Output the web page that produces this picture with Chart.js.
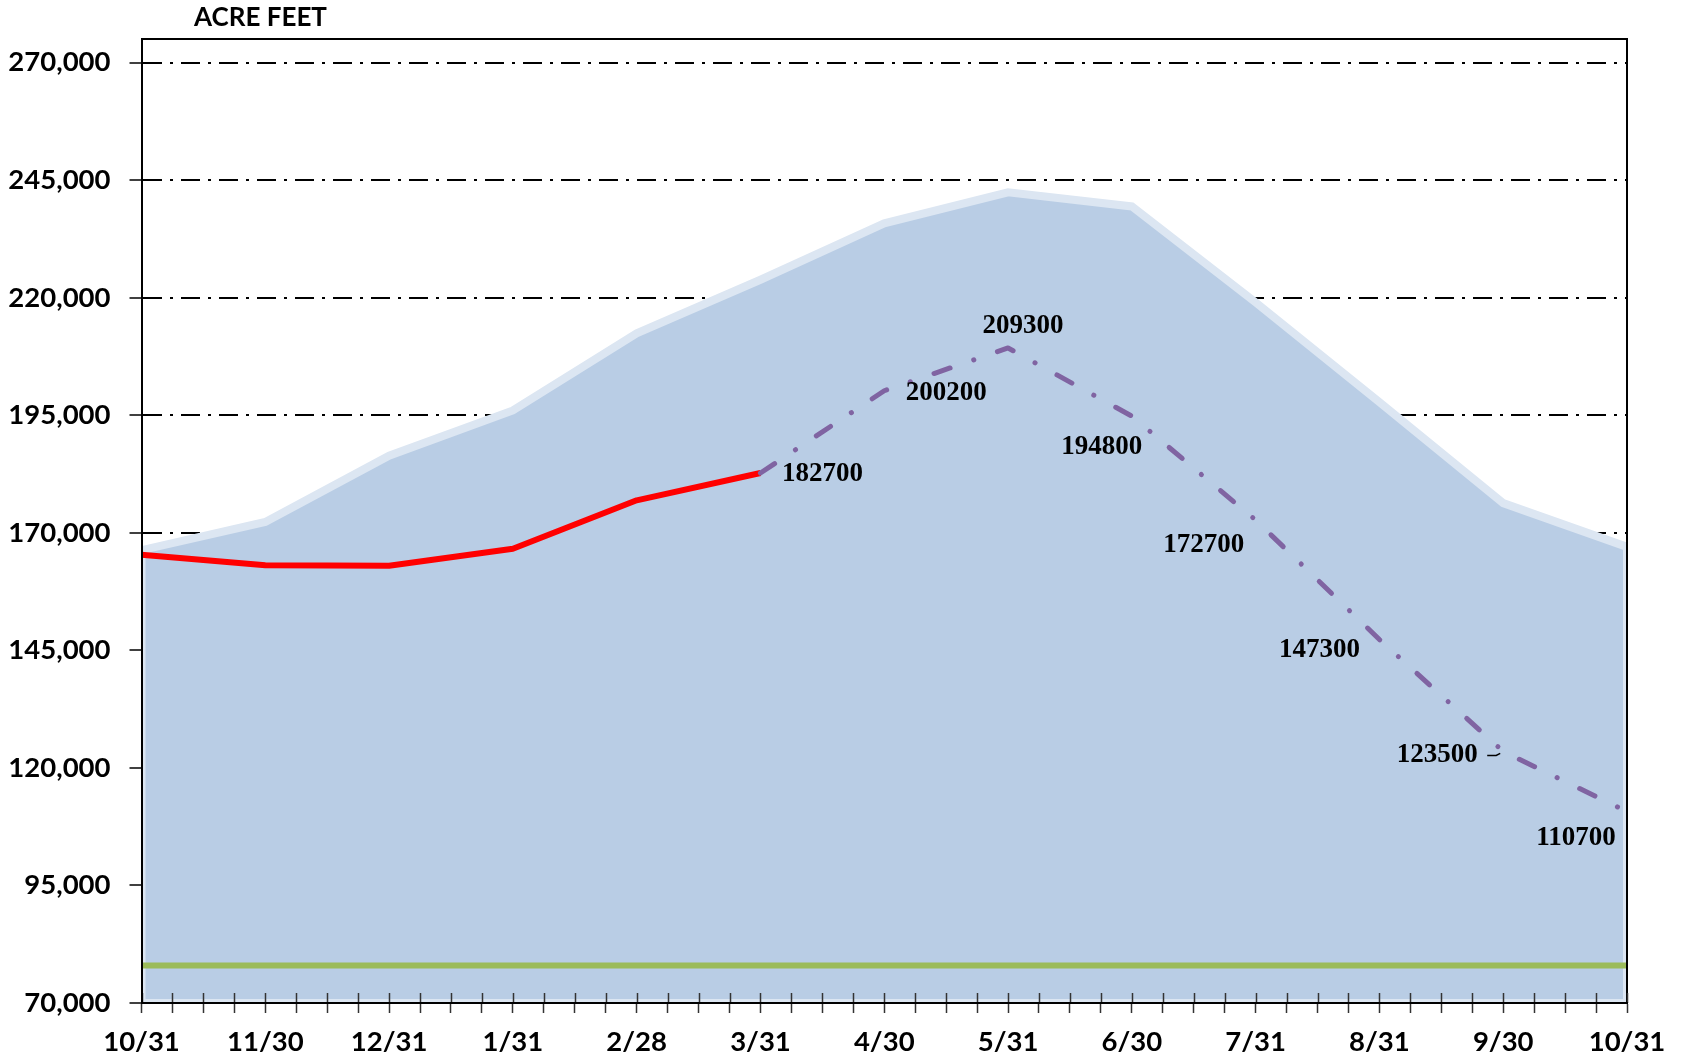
<!DOCTYPE html>
<html>
<head>
<meta charset="utf-8">
<script src="https://cdn.jsdelivr.net/npm/chart.js@4.4.0/dist/chart.umd.min.js"></script>
<style>
    html, body { margin: 0; padding: 0; background: #fff; }
    canvas { display: block; }
</style>
</head>
<body>
<canvas id="storageChart" width="1682" height="1059"></canvas>
<script>
const MONTHS = ['10/31', '11/30', '12/31', '1/31', '2/28', '3/31', '4/30', '5/31', '6/30', '7/31', '8/31', '9/30', '10/31'];

// upper envelope (shaded area)
const NORMAL_STORAGE   = [166300, 172300, 186400, 196000, 212400, 223800, 235800, 242400, 239400, 219000, 197800, 176300, 167000];
const ACTUAL_STORAGE   = [165300, 163100, 163000, 166600, 176900, 182700, null, null, null, null, null, null, null];
const FORECAST_STORAGE = [null, null, null, null, null, 182700, 200200, 209300, 194800, 172700, 147300, 123500, 110700];
const MINIMUM_POOL     = [78000, 78000, 78000, 78000, 78000, 78000, 78000, 78000, 78000, 78000, 78000, 78000, 78000];

const Y_TICKS = [70000, 95000, 120000, 145000, 170000, 195000, 220000, 245000, 270000];
const WEEKS_PER_MONTH = 4;

// label placement around the forecast points (dx, dy from the point)
const LABEL_OFFSETS = {
    5:  [62, 1],
    6:  [62, 2],
    7:  [15, -22],
    8:  [-30, 31],
    9:  [-52, 25],
    10: [-60, 11],
    11: [-66, 4],
    12: [-51, 26]
};

const TICK_FONT  = { family: 'Lato', weight: 'bold', size: 27.5 };
const LABEL_FONT = 'bold 27px "Liberation Serif"';
const AREA_EDGE  = '#DCE6F2';

function toPoints(values) {
    return values.map((v, i) => ({ x: i, y: v }));
}

function buildWeekTicks() {
    let ticks = [];
    for (let i = 0; i < MONTHS.length; i++) {
        for (let q = 0; q < WEEKS_PER_MONTH; q++) {
            if (i === MONTHS.length - 1 && q > 0)
                break;
            ticks.push({ value: i + q / WEEKS_PER_MONTH });
        }
    }
    return ticks;
}

// outline the sides and bottom of the shaded area, like the top edge
const areaEdgePlugin = {
    id: 'areaEdge',
    afterDatasetDraw(chart, args) {
        if (args.index !== 3)
            return;
        const { ctx, chartArea } = chart;
        const pts = args.meta.data;
        const first = pts[0];
        const last = pts[pts.length - 1];

        ctx.save();
        ctx.beginPath();
        ctx.rect(chartArea.left, chartArea.top, chartArea.right - chartArea.left, chartArea.bottom - chartArea.top);
        ctx.clip();
        ctx.strokeStyle = AREA_EDGE;
        ctx.lineWidth = 8;
        ctx.beginPath();
        ctx.moveTo(first.x, first.y);
        ctx.lineTo(chartArea.left, chartArea.bottom);
        ctx.lineTo(chartArea.right, chartArea.bottom);
        ctx.lineTo(last.x, last.y);
        ctx.stroke();
        ctx.restore();
    }
};

const framePlugin = {
    id: 'frame',
    afterDatasetsDraw(chart) {
        const { ctx, chartArea } = chart;
        const xScale = chart.scales.x;

        ctx.save();
        ctx.strokeStyle = '#000';
        ctx.lineWidth = 2;
        ctx.beginPath();
        ctx.moveTo(chartArea.left, chartArea.top);
        ctx.lineTo(chartArea.right, chartArea.top);
        ctx.lineTo(chartArea.right, chartArea.bottom);
        ctx.stroke();

        // tick marks cross the axis: inner half
        ctx.strokeStyle = '#333';
        ctx.lineWidth = 1.5;
        xScale.ticks.forEach(t => {
            const x = Math.round(xScale.getPixelForValue(t.value)) + 0.5;
            ctx.beginPath();
            ctx.moveTo(x, chartArea.bottom - 10);
            ctx.lineTo(x, chartArea.bottom);
            ctx.stroke();
        });

        ctx.fillStyle = '#000';
        ctx.font = 'bold 26px Lato';
        ctx.textAlign = 'center';
        ctx.textBaseline = 'middle';
        ctx.fillText('ACRE FEET', chartArea.left + 119, 18);
        ctx.restore();
    }
};

const forecastLabelsPlugin = {
    id: 'forecastLabels',
    afterDatasetsDraw(chart) {
        const { ctx } = chart;
        const meta = chart.getDatasetMeta(0);

        ctx.save();
        ctx.fillStyle = '#000';
        ctx.font = LABEL_FONT;
        ctx.textAlign = 'center';
        ctx.textBaseline = 'middle';

        FORECAST_STORAGE.forEach((v, i) => {
            if (v === null)
                return;
            const p = meta.data[i];
            const off = LABEL_OFFSETS[i] || [0, -20];
            ctx.fillText(String(v), p.x + off[0], p.y + off[1]);

            if (i === 11) {
                ctx.strokeStyle = '#000';
                ctx.lineWidth = 1.5;
                ctx.beginPath();
                ctx.moveTo(p.x - 16, p.y + 4);
                ctx.lineTo(p.x - 7, p.y + 4);
                ctx.lineTo(p.x - 3, p.y + 2);
                ctx.stroke();
            }
        });
        ctx.restore();
    }
};

function initChart() {
    new Chart(document.getElementById('storageChart'), {
        type: 'line',
        data: {
            datasets: [
                {
                    label: 'Forecast',
                    data: toPoints(FORECAST_STORAGE),
                    borderColor: '#8064A2',
                    borderWidth: 5,
                    borderDash: [17, 25, 0.1, 25],
                    borderCapStyle: 'round',
                    borderJoinStyle: 'round',
                    pointRadius: 0,
                    fill: false
                },
                {
                    label: 'Actual',
                    data: toPoints(ACTUAL_STORAGE),
                    borderColor: '#FF0000',
                    borderWidth: 6,
                    borderJoinStyle: 'round',
                    pointRadius: 0,
                    fill: false
                },
                {
                    label: 'Minimum',
                    data: toPoints(MINIMUM_POOL),
                    borderColor: '#9BBB59',
                    borderWidth: 6,
                    pointRadius: 0,
                    fill: false
                },
                {
                    label: 'Normal',
                    data: toPoints(NORMAL_STORAGE),
                    borderColor: AREA_EDGE,
                    borderWidth: 8,
                    backgroundColor: '#B9CDE5',
                    pointRadius: 0,
                    fill: 'start'
                }
            ]
        },
        plugins: [areaEdgePlugin, framePlugin, forecastLabelsPlugin],
        options: {
            responsive: false,
            animation: false,
            devicePixelRatio: 1,
            events: [],
            layout: {
                padding: { left: 0, right: 55, top: 39, bottom: 0 }
            },
            plugins: {
                legend: { display: false },
                tooltip: { enabled: false },
                title: { display: false }
            },
            scales: {
                x: {
                    type: 'linear',
                    min: 0,
                    max: MONTHS.length - 1,
                    afterBuildTicks: scale => { scale.ticks = buildWeekTicks(); },
                    afterFit: scale => { scale.height = 56; },
                    ticks: {
                        autoSkip: false,
                        maxRotation: 0,
                        color: '#000',
                        font: TICK_FONT,
                        padding: 13,
                        callback: v => Number.isInteger(v) ? MONTHS[v] : ''
                    },
                    grid: {
                        drawOnChartArea: false,
                        drawTicks: true,
                        tickLength: 10,
                        tickColor: '#333',
                        tickWidth: 1.5
                    },
                    border: { display: true, color: '#000', width: 2, z: 1 }
                },
                y: {
                    min: 70000,
                    max: 275000,
                    afterBuildTicks: scale => { scale.ticks = Y_TICKS.map(v => ({ value: v })); },
                    afterFit: scale => { scale.width = 141.5; },
                    ticks: {
                        color: '#000',
                        font: TICK_FONT,
                        padding: 19,
                        callback: v => v.toLocaleString('en-US')
                    },
                    grid: {
                        color: '#000',
                        lineWidth: 2,
                        drawTicks: true,
                        tickLength: 12,
                        tickColor: '#000',
                        tickWidth: 1.5,
                        tickBorderDash: []
                    },
                    border: { display: true, color: '#000', width: 2, dash: [19, 8, 3, 8], z: 1 }
                }
            }
        }
    });
}

initChart();
</script>
</body>
</html>
